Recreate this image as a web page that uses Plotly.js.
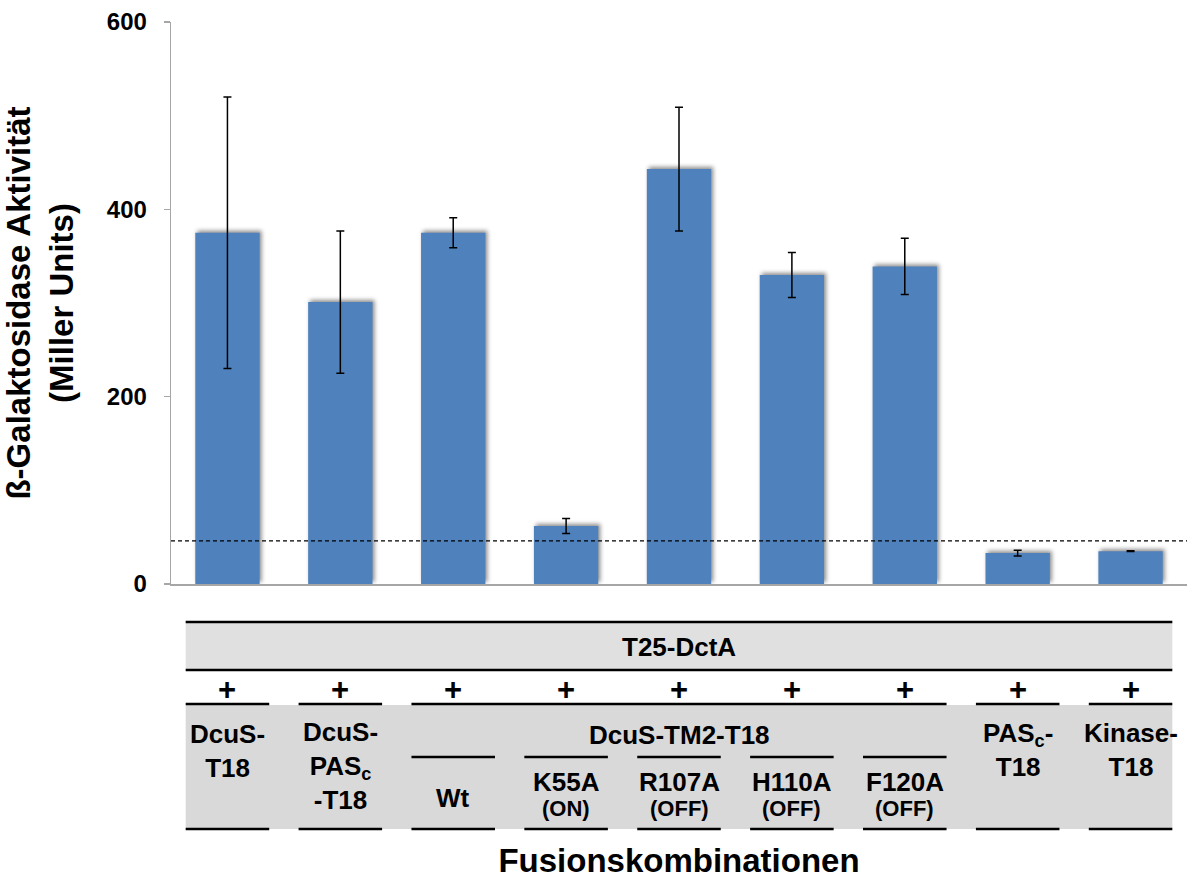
<!DOCTYPE html>
<html>
<head>
<meta charset="utf-8">
<script src="https://cdn.plot.ly/plotly-3.0.1.min.js"></script>
<style>
  html, body { margin: 0; padding: 0; background: #fff; }
  #chart { width: 1187px; height: 879px; }
  /* soft shadow behind each bar */
  .barlayer .point path { filter: drop-shadow(2px -2px 2px rgba(0,0,0,0.45)); }
</style>
</head>
<body>
<div id="chart"></div>
<script>
// Fusion combinations measured against T25-DctA
const categories = ['DcuS-T18', 'DcuS-PASc-T18', 'DcuS-TM2-T18 Wt', 'DcuS-TM2-T18 K55A',
                    'DcuS-TM2-T18 R107A', 'DcuS-TM2-T18 H110A', 'DcuS-TM2-T18 F120A',
                    'PASc-T18', 'Kinase-T18'];
// beta-galactosidase activity (Miller units) and standard deviation
const activity = [375, 301, 375, 62, 443, 330, 339, 33, 35];
const activitySD = [145, 76, 16, 8, 66, 24, 30, 3, 0.4];
// background level of the empty-vector control
const backgroundLevel = [46];

// table texts below the bars
const partnerLabel = 'T25-DctA';
const plusSigns = ['+', '+', '+', '+', '+', '+', '+', '+', '+'];
const constructLabels = ['DcuS-<br>T18', 'DcuS-<br>PAS<sub>c</sub><br>-T18', 'Wt', 'K55A', 'R107A',
                         'H110A', 'F120A', 'PAS<sub>c</sub>-<br>T18', 'Kinase-<br>T18'];
const switchStates = ['', '', '', '(ON)', '(OFF)', '(OFF)', '(OFF)', '', ''];
const tm2GroupLabel = 'DcuS-TM2-T18';
const tm2Members = [2, 3, 4, 5, 6];
const yTicks = [0, 200, 400, 600];

const FONT = 'Liberation Sans, Arial, Helvetica, sans-serif';
const M = {l: 171, r: 0, t: 22, b: 295};
const plotH = 879 - M.t - M.b;
// page pixel row -> paper coordinate
const py = pix => (879 - M.b - pix) / plotH;
const HALF = 0.37;

const shapes = [];
const annotations = [];

// background level
shapes.push({type: 'line', xref: 'paper', yref: 'y', x0: 0, x1: 1,
  y0: backgroundLevel[0], y1: backgroundLevel[0], layer: 'above',
  line: {color: '#000', width: 1.4, dash: '4px,3px'}});

// grey bands of the table
shapes.push({type: 'rect', xref: 'x', yref: 'paper', x0: -HALF, x1: categories.length - 1 + HALF,
  y0: py(670), y1: py(622), fillcolor: '#E0E0E0', line: {width: 0}});
shapes.push({type: 'rect', xref: 'x', yref: 'paper', x0: -HALF, x1: categories.length - 1 + HALF,
  y0: py(829), y1: py(705), fillcolor: '#D9D9D9', line: {width: 0}});

const hline = (x0, x1, pix) => shapes.push({type: 'line', xref: 'x', yref: 'paper',
  x0: x0, x1: x1, y0: py(pix), y1: py(pix), line: {color: '#000', width: 2.5}});

hline(-HALF, categories.length - 1 + HALF, 622);
hline(-HALF, categories.length - 1 + HALF, 670);

categories.forEach((c, i) => {
  const inGroup = tm2Members.includes(i);
  if (!inGroup) hline(i - HALF, i + HALF, 704);
  else hline(i - HALF, i + HALF, 757);
  hline(i - HALF, i + HALF, 829);
});
hline(tm2Members[0] - HALF, tm2Members[tm2Members.length - 1] + HALF, 704);

const note = (x, pix, text, size) => annotations.push({xref: 'x', yref: 'paper', x: x, y: py(pix),
  text: '<b>' + text + '</b>', showarrow: false, xanchor: 'center', yanchor: 'middle',
  font: {family: FONT, size: size, color: '#000'}});

note((categories.length - 1) / 2, 647, partnerLabel, 26);
plusSigns.forEach((p, i) => note(i, 689, p, 31));
note((tm2Members[0] + tm2Members[tm2Members.length - 1]) / 2, 735, tm2GroupLabel, 26);

const labelCenter = [751, 766, 798, 782, 782, 782, 782, 750, 750];
constructLabels.forEach((t, i) => note(i, labelCenter[i], t, 26));
switchStates.forEach((t, i) => { if (t) note(i, 809, t, 22); });

const data = [{
  type: 'bar',
  x: categories,
  y: activity,
  marker: {color: '#4F81BD', line: {width: 0}},
  error_y: {type: 'data', array: activitySD, visible: true, color: '#000', thickness: 1.5, width: 4},
  hoverinfo: 'x+y'
}];

const layout = {
  width: 1187, height: 879,
  margin: M,
  paper_bgcolor: '#fff', plot_bgcolor: '#fff',
  showlegend: false,
  bargap: 0.43,
  font: {family: FONT, color: '#000'},
  xaxis: {
    type: 'category', range: [-0.5, categories.length - 0.5],
    showticklabels: false, ticks: '', showgrid: false, zeroline: false,
    showline: true, linecolor: '#A6A6A6', linewidth: 2,
    title: {text: '<b>Fusionskombinationen</b>', font: {family: FONT, size: 33, color: '#000'}, standoff: 270}
  },
  yaxis: {
    range: [0, 600], tickmode: 'array', tickvals: yTicks, ticktext: yTicks.map(v => '<b>' + v + '</b>'),
    ticks: 'outside', ticklen: 6, tickwidth: 1.3, tickcolor: '#A6A6A6',
    showline: true, linecolor: '#A6A6A6', linewidth: 1.3,
    showgrid: false, zeroline: false,
    ticklabelstandoff: 12,
    tickfont: {family: FONT, size: 24, color: '#000'},
    title: {text: '<b>ß-Galaktosidase Aktivität<br>(Miller Units)</b>',
            font: {family: FONT, size: 33, color: '#000'}, standoff: 24}
  },
  shapes: shapes,
  annotations: annotations
};

Plotly.newPlot('chart', data, layout, {displayModeBar: false, staticPlot: true});
</script>
</body>
</html>
